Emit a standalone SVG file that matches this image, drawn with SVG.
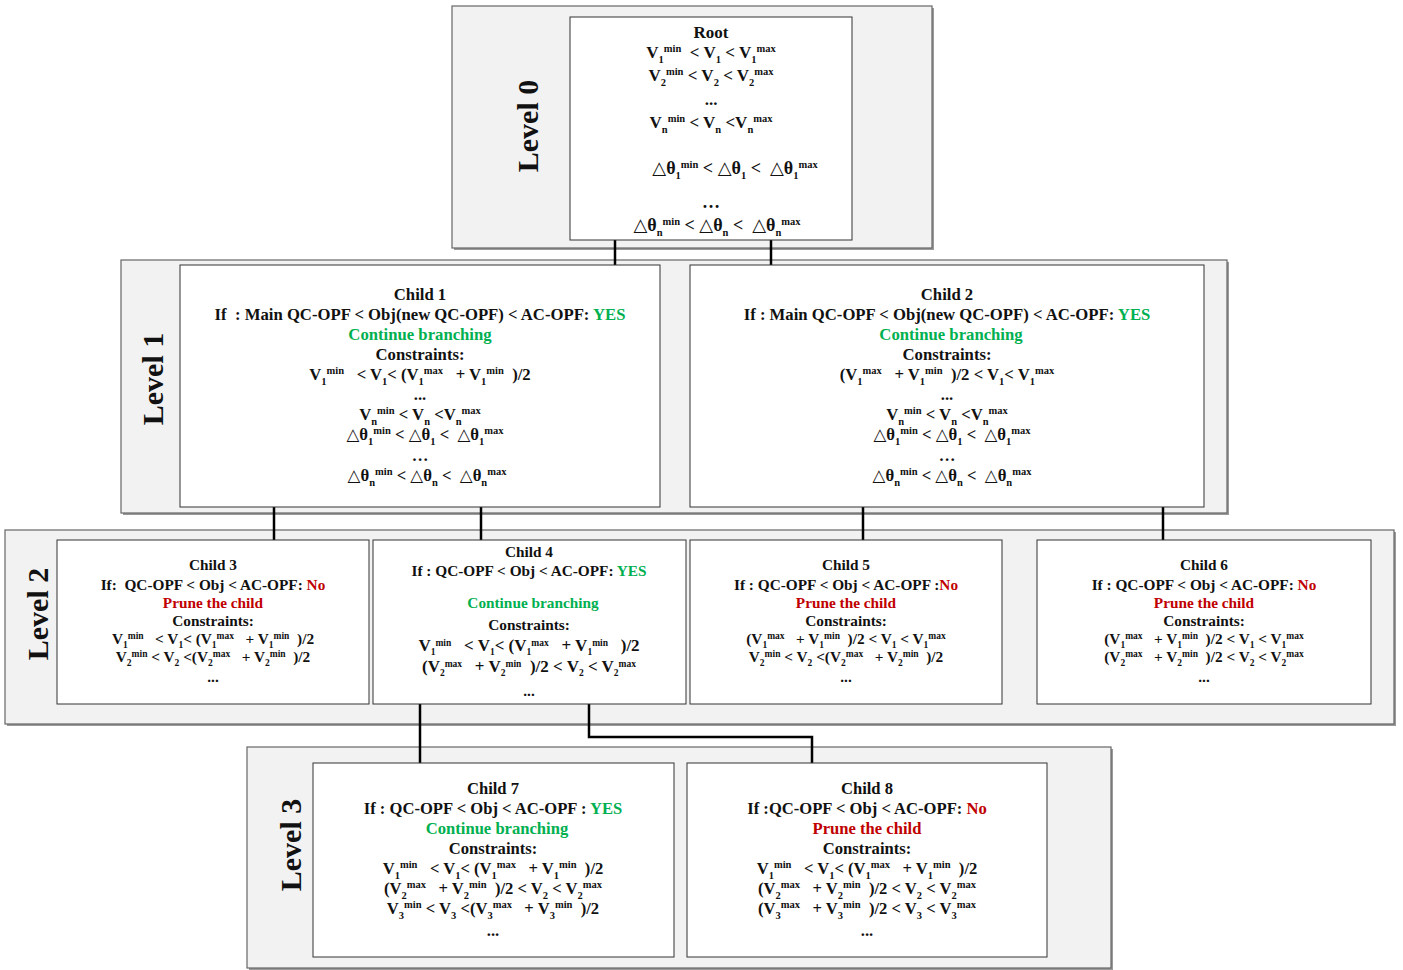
<svg xmlns="http://www.w3.org/2000/svg" width="1403" height="970" viewBox="0 0 1403 970" xml:space="preserve">
<style>
text{font-family:"Liberation Serif","Times New Roman",serif;font-weight:bold;text-anchor:middle;fill:#111;white-space:pre}
.f17{font-size:17px}.f16{font-size:16.7px}.f15{font-size:15.3px}.f165{font-size:16.6px}.f18{font-size:18px}
.lv{font-size:30px}
.sb{font-size:10.5px;baseline-shift:-4.5px}
.sp{font-size:10.5px;baseline-shift:6.5px}
.f15 .sb,.c4 .sb{font-size:9.5px;baseline-shift:-3.5px}
.f15 .sp,.c4 .sp{font-size:9.5px;baseline-shift:5px}
.d{font-family:"DejaVu Sans",sans-serif;font-weight:bold}
.g{fill:#00b050}.r{fill:#c00000}
.frame{fill:#f2f2f2;stroke:#666;stroke-width:1.2}
.shadow{fill:#9a9a9a}
.node{fill:#fff;stroke:#333;stroke-width:1}
.conn{fill:none;stroke:#000;stroke-width:2.5}
</style>
<g id="levels">
<rect class="shadow" x="454" y="8" width="480" height="242"/>
<rect class="frame" x="452" y="6" width="480" height="242"/>
<rect class="shadow" x="123" y="262" width="1106" height="253"/>
<rect class="frame" x="121" y="260" width="1106" height="253"/>
<rect class="shadow" x="7" y="532" width="1389" height="194"/>
<rect class="frame" x="5" y="530" width="1389" height="194"/>
<rect class="shadow" x="249" y="749" width="864" height="221"/>
<rect class="frame" x="247" y="747" width="864" height="221"/>
<text class="lv" transform="translate(538,126) rotate(-90)">Level 0</text>
<text class="lv" transform="translate(163,379) rotate(-90)">Level 1</text>
<text class="lv" transform="translate(48,614) rotate(-90)">Level 2</text>
<text class="lv" transform="translate(301,845) rotate(-90)">Level 3</text>
</g>
<g id="connectors">
<line class="conn" x1="615" y1="240" x2="615" y2="265"/>
<line class="conn" x1="771" y1="240" x2="771" y2="265"/>
<line class="conn" x1="274" y1="507" x2="274" y2="540"/>
<line class="conn" x1="481" y1="507" x2="481" y2="540"/>
<line class="conn" x1="863" y1="507" x2="863" y2="540"/>
<line class="conn" x1="1163" y1="507" x2="1163" y2="540"/>
<line class="conn" x1="420" y1="704" x2="420" y2="763"/>
<polyline class="conn" points="589,704 589,737 812,737 812,763"/>
</g>
<g id="root">
<rect class="node" x="570" y="17" width="282" height="223"/>
<text class="f17" x="711" y="38">Root</text>
<text class="f17" x="711" y="58">V<tspan class="sb">1</tspan><tspan class="sp">min</tspan>  &lt; V<tspan class="sb">1</tspan> &lt; V<tspan class="sb">1</tspan><tspan class="sp">max</tspan></text>
<text class="f17" x="711" y="81">V<tspan class="sb">2</tspan><tspan class="sp">min</tspan> &lt; V<tspan class="sb">2</tspan> &lt; V<tspan class="sb">2</tspan><tspan class="sp">max</tspan></text>
<text class="f17" x="711" y="105">...</text>
<text class="f17" x="711" y="128">V<tspan class="sb">n</tspan><tspan class="sp">min</tspan> &lt; V<tspan class="sb">n</tspan> &lt;V<tspan class="sb">n</tspan><tspan class="sp">max</tspan></text>
<text class="f18" x="735" y="174"><tspan class="d">△</tspan>θ<tspan class="sb">1</tspan><tspan class="sp">min</tspan> &lt; <tspan class="d">△</tspan>θ<tspan class="sb">1</tspan> &lt;  <tspan class="d">△</tspan>θ<tspan class="sb">1</tspan><tspan class="sp">max</tspan></text>
<text class="f18" x="711" y="208">…</text>
<text class="f18" x="717" y="231"><tspan class="d">△</tspan>θ<tspan class="sb">n</tspan><tspan class="sp">min</tspan> &lt; <tspan class="d">△</tspan>θ<tspan class="sb">n</tspan> &lt;  <tspan class="d">△</tspan>θ<tspan class="sb">n</tspan><tspan class="sp">max</tspan></text>
</g>
<g id="child1">
<rect class="node" x="180" y="265" width="480" height="242"/>
<text class="f16" x="420" y="300">Child 1</text>
<text class="f16" x="420" y="320">If  : Main QC-OPF &lt; Obj(new QC-OPF) &lt; AC-OPF: <tspan class="g">YES</tspan></text>
<text class="f16 g" x="420" y="340">Continue branching</text>
<text class="f16" x="420" y="360">Constraints:</text>
<text class="f16" x="420" y="380">V<tspan class="sb">1</tspan><tspan class="sp">min</tspan>   &lt; V<tspan class="sb">1</tspan>&lt; (V<tspan class="sb">1</tspan><tspan class="sp">max</tspan>   + V<tspan class="sb">1</tspan><tspan class="sp">min</tspan>  )/2</text>
<text class="f16" x="420" y="400">...</text>
<text class="f16" x="420" y="420">V<tspan class="sb">n</tspan><tspan class="sp">min</tspan> &lt; V<tspan class="sb">n</tspan> &lt;V<tspan class="sb">n</tspan><tspan class="sp">max</tspan></text>
<text class="f16" x="425" y="440"><tspan class="d">△</tspan>θ<tspan class="sb">1</tspan><tspan class="sp">min</tspan> &lt; <tspan class="d">△</tspan>θ<tspan class="sb">1</tspan> &lt;  <tspan class="d">△</tspan>θ<tspan class="sb">1</tspan><tspan class="sp">max</tspan></text>
<text class="f16" x="420" y="461">…</text>
<text class="f16" x="427" y="481"><tspan class="d">△</tspan>θ<tspan class="sb">n</tspan><tspan class="sp">min</tspan> &lt; <tspan class="d">△</tspan>θ<tspan class="sb">n</tspan> &lt;  <tspan class="d">△</tspan>θ<tspan class="sb">n</tspan><tspan class="sp">max</tspan></text>
</g>
<g id="child2">
<rect class="node" x="690" y="265" width="514" height="242"/>
<text class="f16" x="947" y="300">Child 2</text>
<text class="f16" x="947" y="320">If : Main QC-OPF &lt; Obj(new QC-OPF) &lt; AC-OPF: <tspan class="g">YES</tspan></text>
<text class="f16 g" x="951" y="340">Continue branching</text>
<text class="f16" x="947" y="360">Constraints:</text>
<text class="f16" x="947" y="380">(V<tspan class="sb">1</tspan><tspan class="sp">max</tspan>   + V<tspan class="sb">1</tspan><tspan class="sp">min</tspan>  )/2 &lt; V<tspan class="sb">1</tspan>&lt; V<tspan class="sb">1</tspan><tspan class="sp">max</tspan></text>
<text class="f16" x="947" y="400">...</text>
<text class="f16" x="947" y="420">V<tspan class="sb">n</tspan><tspan class="sp">min</tspan> &lt; V<tspan class="sb">n</tspan> &lt;V<tspan class="sb">n</tspan><tspan class="sp">max</tspan></text>
<text class="f16" x="952" y="440"><tspan class="d">△</tspan>θ<tspan class="sb">1</tspan><tspan class="sp">min</tspan> &lt; <tspan class="d">△</tspan>θ<tspan class="sb">1</tspan> &lt;  <tspan class="d">△</tspan>θ<tspan class="sb">1</tspan><tspan class="sp">max</tspan></text>
<text class="f16" x="947" y="461">…</text>
<text class="f16" x="952" y="481"><tspan class="d">△</tspan>θ<tspan class="sb">n</tspan><tspan class="sp">min</tspan> &lt; <tspan class="d">△</tspan>θ<tspan class="sb">n</tspan> &lt;  <tspan class="d">△</tspan>θ<tspan class="sb">n</tspan><tspan class="sp">max</tspan></text>
</g>
<g id="child3">
<rect class="node" x="57" y="540" width="312" height="164"/>
<text class="f15" x="213" y="570">Child 3</text>
<text class="f15" x="213" y="590">If:  QC-OPF &lt; Obj &lt; AC-OPF: <tspan class="r">No</tspan></text>
<text class="f15 r" x="213" y="608">Prune the child</text>
<text class="f15" x="213" y="626">Constraints:</text>
<text class="f15" x="213" y="644">V<tspan class="sb">1</tspan><tspan class="sp">min</tspan>   &lt; V<tspan class="sb">1</tspan>&lt; (V<tspan class="sb">1</tspan><tspan class="sp">max</tspan>   + V<tspan class="sb">1</tspan><tspan class="sp">min</tspan>  )/2</text>
<text class="f15" x="213" y="662">V<tspan class="sb">2</tspan><tspan class="sp">min</tspan> &lt; V<tspan class="sb">2</tspan> &lt;(V<tspan class="sb">2</tspan><tspan class="sp">max</tspan>   + V<tspan class="sb">2</tspan><tspan class="sp">min</tspan>  )/2</text>
<text class="f15" x="213" y="682">...</text>
</g>
<g id="child4" class="c4">
<rect class="node" x="373" y="540" width="313" height="164"/>
<text class="f15" x="529" y="557">Child 4</text>
<text class="f15" x="529" y="576">If : QC-OPF &lt; Obj &lt; AC-OPF: <tspan class="g">YES</tspan></text>
<text class="f15 g" x="533" y="608">Continue branching</text>
<text class="f15" x="529" y="630">Constraints:</text>
<text class="f17" x="529" y="651">V<tspan class="sb">1</tspan><tspan class="sp">min</tspan>   &lt; V<tspan class="sb">1</tspan>&lt; (V<tspan class="sb">1</tspan><tspan class="sp">max</tspan>   + V<tspan class="sb">1</tspan><tspan class="sp">min</tspan>   )/2</text>
<text class="f17" x="529" y="672">(V<tspan class="sb">2</tspan><tspan class="sp">max</tspan>   + V<tspan class="sb">2</tspan><tspan class="sp">min</tspan>  )/2 &lt; V<tspan class="sb">2</tspan> &lt; V<tspan class="sb">2</tspan><tspan class="sp">max</tspan></text>
<text class="f15" x="529" y="696">...</text>
</g>
<g id="child5">
<rect class="node" x="690" y="540" width="312" height="164"/>
<text class="f15" x="846" y="570">Child 5</text>
<text class="f15" x="846" y="590">If : QC-OPF &lt; Obj &lt; AC-OPF :<tspan class="r">No</tspan></text>
<text class="f15 r" x="846" y="608">Prune the child</text>
<text class="f15" x="846" y="626">Constraints:</text>
<text class="f15" x="846" y="644">(V<tspan class="sb">1</tspan><tspan class="sp">max</tspan>   + V<tspan class="sb">1</tspan><tspan class="sp">min</tspan>  )/2 &lt; V<tspan class="sb">1</tspan> &lt; V<tspan class="sb">1</tspan><tspan class="sp">max</tspan></text>
<text class="f15" x="846" y="662">V<tspan class="sb">2</tspan><tspan class="sp">min</tspan> &lt; V<tspan class="sb">2</tspan> &lt;(V<tspan class="sb">2</tspan><tspan class="sp">max</tspan>   + V<tspan class="sb">2</tspan><tspan class="sp">min</tspan>  )/2</text>
<text class="f15" x="846" y="682">...</text>
</g>
<g id="child6">
<rect class="node" x="1037" y="540" width="334" height="164"/>
<text class="f15" x="1204" y="570">Child 6</text>
<text class="f15" x="1204" y="590">If : QC-OPF &lt; Obj &lt; AC-OPF: <tspan class="r">No</tspan></text>
<text class="f15 r" x="1204" y="608">Prune the child</text>
<text class="f15" x="1204" y="626">Constraints:</text>
<text class="f15" x="1204" y="644">(V<tspan class="sb">1</tspan><tspan class="sp">max</tspan>   + V<tspan class="sb">1</tspan><tspan class="sp">min</tspan>  )/2 &lt; V<tspan class="sb">1</tspan> &lt; V<tspan class="sb">1</tspan><tspan class="sp">max</tspan></text>
<text class="f15" x="1204" y="662">(V<tspan class="sb">2</tspan><tspan class="sp">max</tspan>   + V<tspan class="sb">2</tspan><tspan class="sp">min</tspan>  )/2 &lt; V<tspan class="sb">2</tspan> &lt; V<tspan class="sb">2</tspan><tspan class="sp">max</tspan></text>
<text class="f15" x="1204" y="682">...</text>
</g>
<g id="child7">
<rect class="node" x="313" y="763" width="361" height="194"/>
<text class="f165" x="493" y="794">Child 7</text>
<text class="f165" x="493" y="814">If : QC-OPF &lt; Obj &lt; AC-OPF : <tspan class="g">YES</tspan></text>
<text class="f165 g" x="497" y="834">Continue branching</text>
<text class="f165" x="493" y="854">Constraints:</text>
<text class="f165" x="493" y="874">V<tspan class="sb">1</tspan><tspan class="sp">min</tspan>   &lt; V<tspan class="sb">1</tspan>&lt; (V<tspan class="sb">1</tspan><tspan class="sp">max</tspan>   + V<tspan class="sb">1</tspan><tspan class="sp">min</tspan>  )/2</text>
<text class="f165" x="493" y="894">(V<tspan class="sb">2</tspan><tspan class="sp">max</tspan>   + V<tspan class="sb">2</tspan><tspan class="sp">min</tspan>  )/2 &lt; V<tspan class="sb">2</tspan> &lt; V<tspan class="sb">2</tspan><tspan class="sp">max</tspan></text>
<text class="f165" x="493" y="914">V<tspan class="sb">3</tspan><tspan class="sp">min</tspan> &lt; V<tspan class="sb">3</tspan> &lt;(V<tspan class="sb">3</tspan><tspan class="sp">max</tspan>   + V<tspan class="sb">3</tspan><tspan class="sp">min</tspan>  )/2</text>
<text class="f165" x="493" y="936">...</text>
</g>
<g id="child8">
<rect class="node" x="687" y="763" width="360" height="194"/>
<text class="f165" x="867" y="794">Child 8</text>
<text class="f165" x="867" y="814">If :QC-OPF &lt; Obj &lt; AC-OPF: <tspan class="r">No</tspan></text>
<text class="f165 r" x="867" y="834">Prune the child</text>
<text class="f165" x="867" y="854">Constraints:</text>
<text class="f165" x="867" y="874">V<tspan class="sb">1</tspan><tspan class="sp">min</tspan>   &lt; V<tspan class="sb">1</tspan>&lt; (V<tspan class="sb">1</tspan><tspan class="sp">max</tspan>   + V<tspan class="sb">1</tspan><tspan class="sp">min</tspan>  )/2</text>
<text class="f165" x="867" y="894">(V<tspan class="sb">2</tspan><tspan class="sp">max</tspan>   + V<tspan class="sb">2</tspan><tspan class="sp">min</tspan>  )/2 &lt; V<tspan class="sb">2</tspan> &lt; V<tspan class="sb">2</tspan><tspan class="sp">max</tspan></text>
<text class="f165" x="867" y="914">(V<tspan class="sb">3</tspan><tspan class="sp">max</tspan>   + V<tspan class="sb">3</tspan><tspan class="sp">min</tspan>  )/2 &lt; V<tspan class="sb">3</tspan> &lt; V<tspan class="sb">3</tspan><tspan class="sp">max</tspan></text>
<text class="f165" x="867" y="936">...</text>
</g>
</svg>
